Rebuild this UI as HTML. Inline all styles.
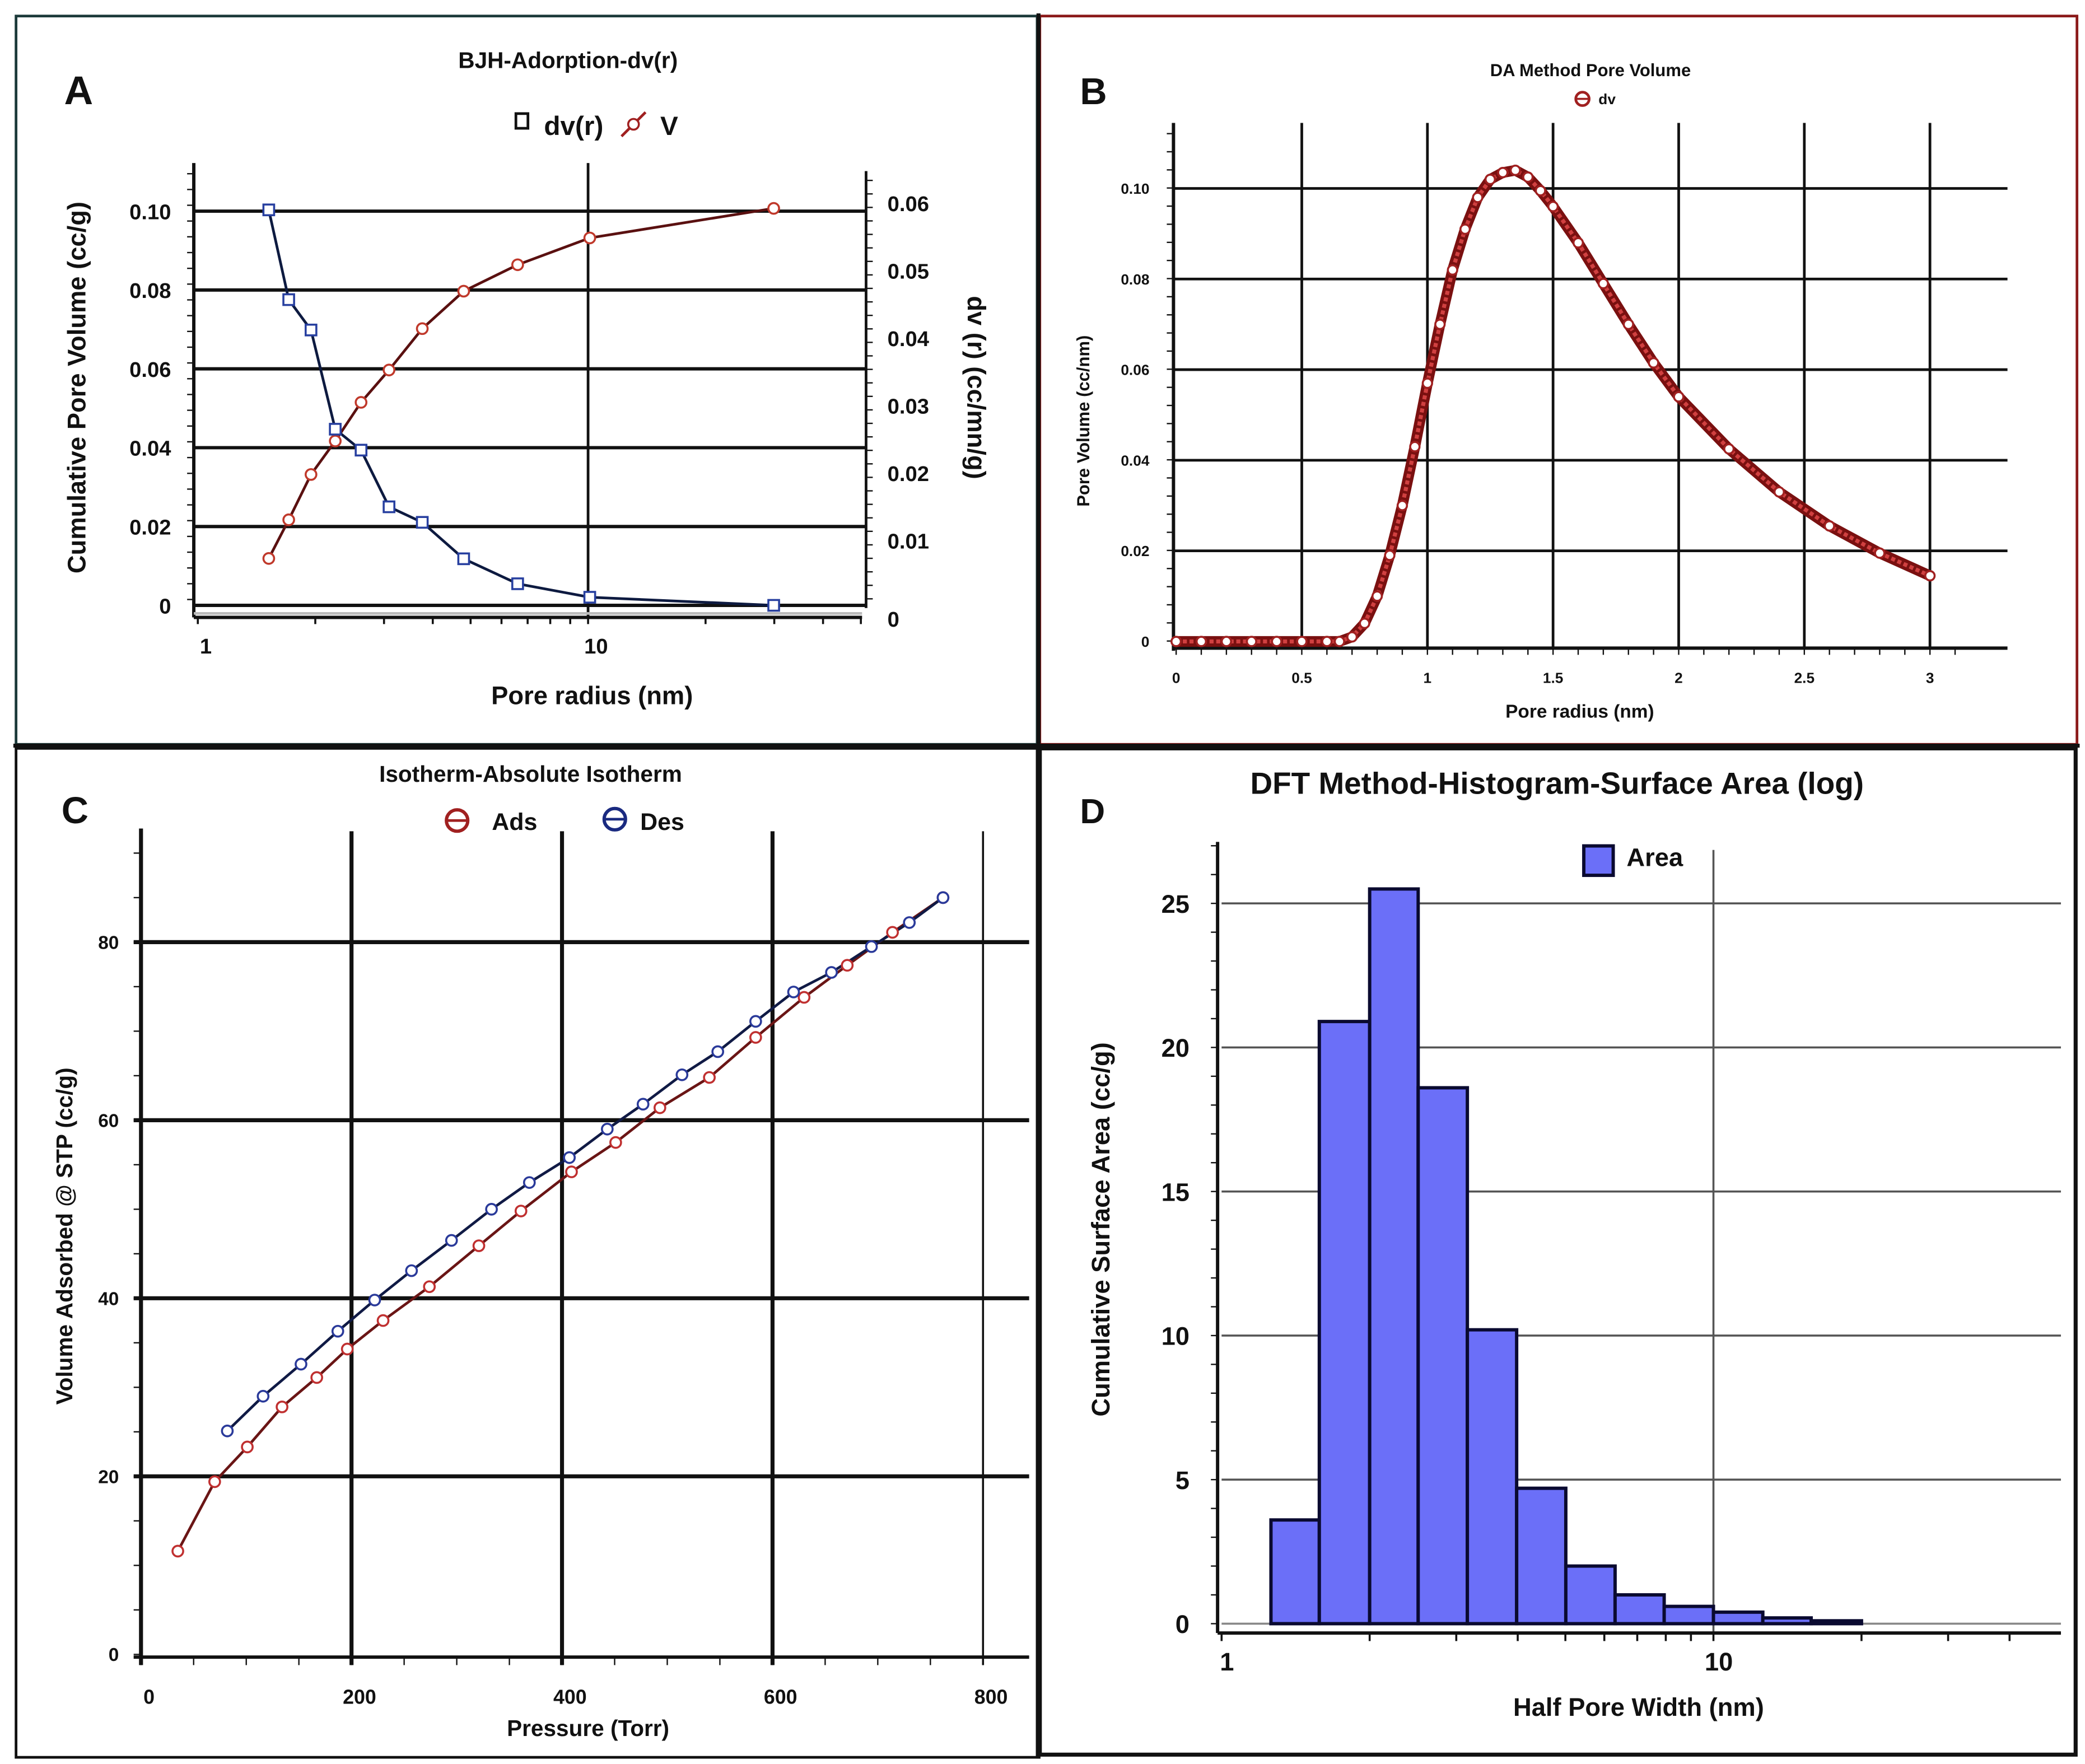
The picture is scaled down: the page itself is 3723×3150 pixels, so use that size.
<!DOCTYPE html>
<html><head><meta charset="utf-8"><style>
html,body{margin:0;padding:0;background:#fff}
svg{display:block}
text{font-family:"Liberation Sans",sans-serif;font-weight:bold;fill:#111}
</style></head><body>
<svg id="s" width="3723" height="3150" viewBox="0 0 1560 1320" preserveAspectRatio="none" xmlns="http://www.w3.org/2000/svg">
<rect x="0" y="0" width="1560" height="1320" fill="#fff"/>
<g id="frames">
<rect x="12" y="12" width="764" height="545" fill="none" stroke="#1d3b3b" stroke-width="2"/>
<rect x="778" y="12" width="776" height="545" fill="none" stroke="#8b1a1a" stroke-width="2"/>
<rect x="12" y="560" width="764" height="755" fill="none" stroke="#111" stroke-width="2"/>
<rect x="778" y="560" width="775" height="753" fill="none" stroke="#111" stroke-width="3"/>
<line x1="777" y1="10" x2="777" y2="1316" stroke="#111" stroke-width="3"/>
<line x1="10" y1="558" x2="1556" y2="558" stroke="#111" stroke-width="3"/>
</g>
<g id="gA"></g>
<g id="gB"></g>
<g id="gC"></g>
<g id="gD"></g>
</svg>
<script>
// Panel A data
const aRadius=[1.52,1.71,1.95,2.25,2.62,3.09,3.76,4.8,6.6,10.1,29.9];
const aCumVol=[0.0119,0.0217,0.0332,0.0417,0.0515,0.0597,0.0702,0.0797,0.0864,0.0932,0.1007];
const aDv=[0.059,0.0457,0.0412,0.0265,0.0234,0.0150,0.0127,0.0073,0.0036,0.0016,0.0004];
const aLeftTicks=["0","0.02","0.04","0.06","0.08","0.10"];
const aRightTicks=["0","0.01","0.02","0.03","0.04","0.05","0.06"];
// Panel B data
const bRadius=[0,0.1,0.2,0.3,0.4,0.5,0.6,0.65,0.7,0.75,0.8,0.85,0.9,0.95,1.0,1.05,1.1,1.15,1.2,1.25,1.3,1.35,1.4,1.45,1.5,1.6,1.7,1.8,1.9,2.0,2.2,2.4,2.6,2.8,3.0];
const bDv=[0,0,0,0,0,0,0,0,0.001,0.004,0.010,0.019,0.030,0.043,0.057,0.070,0.082,0.091,0.098,0.102,0.1035,0.104,0.1025,0.0995,0.096,0.088,0.079,0.070,0.0615,0.054,0.0425,0.033,0.0255,0.0195,0.0145];
const bXTicks=["0","0.5","1","1.5","2","2.5","3"];
const bYTicks=["0","0.02","0.04","0.06","0.08","0.10"];
// Panel C data
const cAdsP=[35,70,101,134,167,196,230,274,321,361,409,451,493,540,584,630,671,714,762];
const cAdsV=[11.6,19.4,23.3,27.8,31.1,34.3,37.5,41.3,45.9,49.8,54.2,57.5,61.4,64.8,69.3,73.8,77.4,81.1,85.0];
const cDesP=[82,116,152,187,222,257,295,333,369,407,443,477,514,548,584,620,656,694,730,762];
const cDesV=[25.1,29.0,32.6,36.3,39.8,43.1,46.5,50.0,53.0,55.8,59.0,61.8,65.1,67.7,71.1,74.4,76.6,79.5,82.2,85.0];
const cXTicks=["0","200","400","600","800"];
const cYTicks=["0","20","40","60","80"];
// Panel D data
const dEdges=[1.26,1.58,2.0,2.51,3.16,3.98,5.01,6.31,7.94,10,12.6,15.8,20];
const dArea=[3.6,20.9,25.5,18.6,10.2,4.7,2.0,1.0,0.6,0.4,0.2,0.1];
const dYTicks=["0","5","10","15","20","25"];

const NS="http://www.w3.org/2000/svg";
function mk(parent,tag,attrs,txt){const e=document.createElementNS(NS,tag);for(const k in attrs)e.setAttribute(k,attrs[k]);if(txt!==undefined)e.textContent=txt;parent.appendChild(e);return e;}
const L10=Math.log10;

// ---------- Panel A ----------
(function(){
const g=document.getElementById('gA');
const xA=r=>148+292*L10(r), yL=v=>453-v*2950, yR=d=>455-d*5050;
let t;
t=mk(g,'text',{x:48,y:78,'font-size':30,'font-weight':'bold'},'A');

t=mk(g,'text',{x:425,y:51,'font-size':17,'text-anchor':'middle'},'BJH-Adorption-dv(r)');

aLeftTicks.forEach((s,i)=>{const v=i*0.02;const y=yL(v);
 if(i>0){const l=mk(g,'line',{x1:145,y1:y,x2:648,y2:y,stroke:'#111','stroke-width':2.5});}
 const tx=mk(g,'text',{x:128,y:y+6,'font-size':16,'text-anchor':'end'},s);});
mk(g,'line',{x1:145,y1:453,x2:648,y2:453,stroke:'#111','stroke-width':2.5});
aRightTicks.forEach((s,i)=>{const y=yR(i*0.01)+(i==0?8:0);
 const tx=mk(g,'text',{x:664,y:y+6,'font-size':16},s);});
let l=mk(g,'line',{x1:xA(10),y1:122,x2:xA(10),y2:462,stroke:'#111','stroke-width':2});
mk(g,'line',{x1:145,y1:122,x2:145,y2:462,stroke:'#111','stroke-width':2.5});
for(let y=130;y<455;y+=11.8)mk(g,'line',{x1:140,y1:y,x2:145,y2:y,stroke:'#111','stroke-width':1});
mk(g,'line',{x1:648,y1:128,x2:648,y2:455,stroke:'#111','stroke-width':2});
for(let y=135;y<455;y+=10.1)mk(g,'line',{x1:648,y1:y,x2:653,y2:y,stroke:'#111','stroke-width':1});
mk(g,'line',{x1:145,y1:462,x2:645,y2:462,stroke:'#111','stroke-width':2.5});
mk(g,'line',{x1:145,y1:459,x2:645,y2:459,stroke:'#bbb','stroke-width':2});
[1,2,3,4,5,6,7,8,9,10,20,30,40,50].forEach(r=>mk(g,'line',{x1:xA(r),y1:462,x2:xA(r),y2:467,stroke:'#111','stroke-width':1.5}));
[["1",1],["10",10]].forEach(([s,r])=>{const tx=mk(g,'text',{x:xA(r)+6,y:489,'font-size':16,'text-anchor':'middle'},s);});
t=mk(g,'text',{x:443,y:527,'font-size':19,'text-anchor':'middle'},'Pore radius (nm)');
t=mk(g,'text',{x:0,y:0,'font-size':19,'text-anchor':'middle',transform:'translate(64,290) rotate(-90)'},'Cumulative Pore Volume (cc/g)');
t=mk(g,'text',{x:0,y:0,'font-size':19,'text-anchor':'middle',transform:'translate(724,290) rotate(90)'},'dv (r) (cc/mn/g)');
// series
let p=mk(g,'polyline',{points:aRadius.map((r,i)=>xA(r)+','+yL(aCumVol[i])).join(' '),fill:'none',stroke:'#5a1010','stroke-width':2});

aRadius.forEach((r,i)=>{const c=mk(g,'circle',{cx:xA(r),cy:yL(aCumVol[i]),r:4,fill:'#fff',stroke:'#c0392b','stroke-width':1.5});});
p=mk(g,'polyline',{points:aRadius.map((r,i)=>xA(r)+','+yR(aDv[i])).join(' '),fill:'none',stroke:'#0d1a40','stroke-width':2});

aRadius.forEach((r,i)=>{const c=mk(g,'rect',{x:xA(r)-4,y:yR(aDv[i])-4,width:8,height:8,fill:'#fff',stroke:'#2840a0','stroke-width':1.5});});
// legend
let lg=mk(g,'g',{});
mk(lg,'rect',{x:386,y:85,width:9,height:11,fill:'#fff',stroke:'#111','stroke-width':2});
mk(lg,'text',{x:407,y:101,'font-size':20},'dv(r)');
mk(lg,'line',{x1:465,y1:102,x2:483,y2:84,stroke:'#a02020','stroke-width':2});
mk(lg,'circle',{cx:474,cy:93,r:4,fill:'#fff',stroke:'#a02020','stroke-width':1.5});
mk(lg,'text',{x:494,y:101,'font-size':20},'V');
})();

// ---------- Panel B ----------
(function(){
const g=document.getElementById('gB');
const xB=r=>880+188*r, yB=v=>480-v*3390;
let t=mk(g,'text',{x:808,y:78,'font-size':28},'B');
t=mk(g,'text',{x:1190,y:57,'font-size':13,'text-anchor':'middle'},'DA Method Pore Volume');
let lg=mk(g,'g',{});
mk(lg,'circle',{cx:1184,cy:74,r:5,fill:'#fff',stroke:'#a02020','stroke-width':2});
mk(lg,'line',{x1:1179,y1:74,x2:1189,y2:74,stroke:'#a02020','stroke-width':1.5});
mk(lg,'text',{x:1196,y:78,'font-size':11},'dv');
bXTicks.forEach((s,i)=>{const x=xB(i*0.5);
 if(i>0){const l=mk(g,'line',{x1:x,y1:92,x2:x,y2:485,stroke:'#111','stroke-width':2});}
 const tx=mk(g,'text',{x:x,y:511,'font-size':11,'text-anchor':'middle'},s);});
bYTicks.forEach((s,i)=>{const y=yB(i*0.02);
 if(i>0){const l=mk(g,'line',{x1:878,y1:y,x2:1502,y2:y,stroke:'#111','stroke-width':2});}
 const tx=mk(g,'text',{x:860,y:y+4,'font-size':11,'text-anchor':'end'},s);});
mk(g,'line',{x1:878,y1:92,x2:878,y2:487,stroke:'#111','stroke-width':2.5});
for(let y=100;y<480;y+=13.56)mk(g,'line',{x1:873,y1:y,x2:878,y2:y,stroke:'#111','stroke-width':1});
mk(g,'line',{x1:878,y1:485,x2:1502,y2:485,stroke:'#111','stroke-width':2.5});
for(let r=0;r<=3.2;r+=0.1)mk(g,'line',{x1:xB(r),y1:485,x2:xB(r),y2:490,stroke:'#111','stroke-width':1});
t=mk(g,'text',{x:1182,y:537,'font-size':14,'text-anchor':'middle'},'Pore radius (nm)');
t=mk(g,'text',{x:0,y:0,'font-size':13,'text-anchor':'middle',transform:'translate(815,315) rotate(-90)'},'Pore Volume (cc/nm)');
const pts=bRadius.map((r,i)=>xB(r)+','+yB(bDv[i])).join(' ');
let p=mk(g,'polyline',{points:pts,fill:'none',stroke:'#7a1010','stroke-width':8,'stroke-linejoin':'round'});

p=mk(g,'polyline',{points:pts,fill:'none',stroke:'#d04040','stroke-width':3,'stroke-linejoin':'round','stroke-dasharray':'3 2'});

bRadius.forEach((r,i)=>{const c=mk(g,'circle',{cx:xB(r),cy:yB(bDv[i]),r:3.5,fill:'#fff',stroke:'#a02020','stroke-width':1.5});});
})();

// ---------- Panel C ----------
(function(){
const g=document.getElementById('gC');
const xC=p=>105.5+0.7875*p, yC=v=>1238-6.6625*v;
let t=mk(g,'text',{x:46,y:616,'font-size':28},'C');
t=mk(g,'text',{x:397,y:585,'font-size':17,'text-anchor':'middle'},'Isotherm-Absolute Isotherm');
let lg=mk(g,'g',{});
mk(lg,'circle',{cx:342,cy:614,r:8,fill:'#fff',stroke:'#a02020','stroke-width':2.5});mk(lg,'line',{x1:334,y1:614,x2:350,y2:614,stroke:'#a02020','stroke-width':2});
mk(lg,'text',{x:368,y:621,'font-size':18},'Ads');
mk(lg,'circle',{cx:460,cy:613,r:8,fill:'#fff',stroke:'#1a2a80','stroke-width':2.5});mk(lg,'line',{x1:452,y1:613,x2:468,y2:613,stroke:'#1a2a80','stroke-width':2});
mk(lg,'text',{x:479,y:621,'font-size':18},'Des');
cXTicks.forEach((s,i)=>{const x=xC(i*200);
 const l=mk(g,'line',{x1:x,y1:(i==0?620:622),x2:x,y2:1246,stroke:'#111','stroke-width':(i==4?1.5:3)});
 const tx=mk(g,'text',{x:x+6,y:1275,'font-size':15,'text-anchor':'middle'},s);});
cYTicks.forEach((s,i)=>{const y=yC(i*20);
 if(i>0){const l=mk(g,'line',{x1:100,y1:y,x2:770,y2:y,stroke:'#111','stroke-width':3});}
 const tx=mk(g,'text',{x:89,y:y+5,'font-size':14,'text-anchor':'end'},s);});
mk(g,'line',{x1:100,y1:1240,x2:770,y2:1240,stroke:'#111','stroke-width':2.5});
for(let v=0;v<=90;v+=5)mk(g,'line',{x1:100,y1:yC(v),x2:105,y2:yC(v),stroke:'#111','stroke-width':1});
for(let p=0;p<=800;p+=50)mk(g,'line',{x1:xC(p),y1:1240,x2:xC(p),y2:1246,stroke:'#111','stroke-width':1});
t=mk(g,'text',{x:440,y:1299,'font-size':17,'text-anchor':'middle'},'Pressure  (Torr)');
t=mk(g,'text',{x:0,y:0,'font-size':17,'text-anchor':'middle',transform:'translate(54,925) rotate(-90)'},'Volume Adsorbed @ STP (cc/g)');
let p=mk(g,'polyline',{points:cAdsP.map((x,i)=>xC(x)+','+yC(cAdsV[i])).join(' '),fill:'none',stroke:'#6a1515','stroke-width':2});
p=mk(g,'polyline',{points:cDesP.map((x,i)=>xC(x)+','+yC(cDesV[i])).join(' '),fill:'none',stroke:'#101a45','stroke-width':2});
cAdsP.forEach((x,i)=>{const c=mk(g,'circle',{cx:xC(x),cy:yC(cAdsV[i]),r:4,fill:'#fff',stroke:'#c03030','stroke-width':1.5});});
cDesP.forEach((x,i)=>{const c=mk(g,'circle',{cx:xC(x),cy:yC(cDesV[i]),r:4,fill:'#fff',stroke:'#2a3a9a','stroke-width':1.5});});
})();

// ---------- Panel D ----------
(function(){
const g=document.getElementById('gD');
const xD=r=>914+368*L10(r), yD=v=>1215-21.56*v;
let t=mk(g,'text',{x:808,y:616,'font-size':26},'D');
t=mk(g,'text',{x:1165,y:594,'font-size':23,'text-anchor':'middle'},'DFT Method-Histogram-Surface Area (log)');
dYTicks.forEach((s,i)=>{const y=yD(i*5);
 if(i>0){const l=mk(g,'line',{x1:914,y1:y,x2:1542,y2:y,stroke:'#555','stroke-width':1.5});}
 const tx=mk(g,'text',{x:890,y:y+7,'font-size':19,'text-anchor':'end'},s);});
let l=mk(g,'line',{x1:xD(10),y1:636,x2:xD(10),y2:1222,stroke:'#555','stroke-width':1.5});
mk(g,'line',{x1:914,y1:1215,x2:1542,y2:1215,stroke:'#888','stroke-width':1.5});
dArea.forEach((v,i)=>{const x1=xD(dEdges[i]),x2=xD(dEdges[i+1]);
 const r=mk(g,'rect',{x:x1,y:yD(v),width:x2-x1,height:1215-yD(v),fill:'#6b6ff8',stroke:'#0a0a30','stroke-width':2.5});
 });
mk(g,'line',{x1:911,y1:630,x2:911,y2:1222,stroke:'#111','stroke-width':2.5});
for(let v=0;v<=27;v+=1)mk(g,'line',{x1:906,y1:yD(v),x2:911,y2:yD(v),stroke:'#111','stroke-width':1});
mk(g,'line',{x1:911,y1:1222,x2:1542,y2:1222,stroke:'#111','stroke-width':2.5});
[1,2,3,4,5,6,7,8,9,10,20,30,40].forEach(r=>mk(g,'line',{x1:xD(r),y1:1222,x2:xD(r),y2:1228,stroke:'#111','stroke-width':1.5}));
[["1",1],["10",10]].forEach(([s,r])=>{const tx=mk(g,'text',{x:xD(r)+4,y:1250,'font-size':19,'text-anchor':'middle'},s);});
t=mk(g,'text',{x:1226,y:1284,'font-size':19,'text-anchor':'middle'},'Half Pore Width (nm)');
t=mk(g,'text',{x:0,y:0,'font-size':19,'text-anchor':'middle',transform:'translate(830,920) rotate(-90)'},'Cumulative Surface Area (cc/g)');
let lg=mk(g,'g',{});
mk(lg,'rect',{x:1185,y:633,width:22,height:22,fill:'#6b6ff8',stroke:'#0a0a30','stroke-width':2.5});
mk(lg,'text',{x:1217,y:648,'font-size':19},'Area');
})();
</script>
</body></html>
